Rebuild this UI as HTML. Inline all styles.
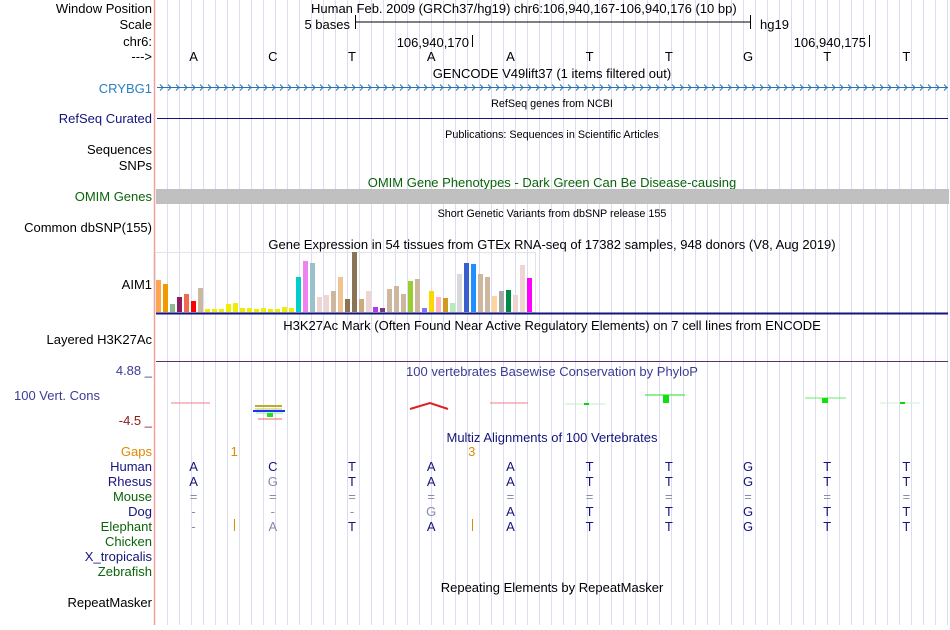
<!DOCTYPE html>
<html><head><meta charset="utf-8"><style>
html,body{margin:0;padding:0;background:#fff}
body{width:950px;height:625px;overflow:hidden;position:relative;font-family:"Liberation Sans",sans-serif}
svg text{font-family:"Liberation Sans",sans-serif}
</style></head><body>
<svg id="chart" width="950" height="625" viewBox="0 0 950 625" xmlns="http://www.w3.org/2000/svg">
<g id="grid"></g>
<line x1="154.5" y1="0" x2="154.5" y2="625" stroke="#f4a0a0" stroke-width="1.5"/>
<g id="labels" font-size="13" text-anchor="end">
<text x="152" y="13" fill="#000">Window Position</text>
<text x="152" y="29" fill="#000">Scale</text>
<text x="152" y="46" fill="#000">chr6:</text>
<text x="152" y="61" fill="#000">---&gt;</text>
<text x="152" y="93" fill="#2a7fc0">CRYBG1</text>
<text x="152" y="123" fill="#14147c">RefSeq Curated</text>
<text x="152" y="154" fill="#000">Sequences</text>
<text x="152" y="170" fill="#000">SNPs</text>
<text x="152" y="201" fill="#0a640a">OMIM Genes</text>
<text x="152" y="232" fill="#000">Common dbSNP(155)</text>
<text x="152" y="289" fill="#000">AIM1</text>
<text x="152" y="344" fill="#000">Layered H3K27Ac</text>
<text x="152" y="375" fill="#3c3c96">4.88 _</text>
<text x="100" y="400" fill="#3c3c96">100 Vert. Cons</text>
<text x="152" y="425" fill="#8b1a1a">-4.5 _</text>
<text x="152" y="456" fill="#e08a00">Gaps</text>
<text x="152" y="471" fill="#14147c">Human</text>
<text x="152" y="486" fill="#14147c">Rhesus</text>
<text x="152" y="501" fill="#0a640a">Mouse</text>
<text x="152" y="516" fill="#14147c">Dog</text>
<text x="152" y="531" fill="#0a640a">Elephant</text>
<text x="152" y="546" fill="#0a640a">Chicken</text>
<text x="152" y="561" fill="#14147c">X_tropicalis</text>
<text x="152" y="576" fill="#0a640a">Zebrafish</text>
<text x="152" y="607" fill="#000">RepeatMasker</text>
</g>
<g font-size="13" fill="#000">
<text x="311" y="13">Human Feb. 2009 (GRCh37/hg19)   chr6:106,940,167-106,940,176 (10 bp)</text>
<text x="350" y="29" text-anchor="end">5 bases</text>
<line x1="355" y1="22" x2="751" y2="22" stroke="#000"/>
<line x1="355.5" y1="15" x2="355.5" y2="29" stroke="#000"/>
<line x1="750.5" y1="15" x2="750.5" y2="29" stroke="#000"/>
<text x="760" y="29">hg19</text>
<text x="469" y="47" text-anchor="end">106,940,170</text>
<line x1="472.5" y1="35" x2="472.5" y2="47" stroke="#000"/>
<text x="866" y="47" text-anchor="end">106,940,175</text>
<line x1="869.5" y1="35" x2="869.5" y2="47" stroke="#000"/>
<text x="552" y="78" text-anchor="middle">GENCODE V49lift37 (1 items filtered out)</text>
<text x="552" y="107" text-anchor="middle" font-size="10.8">RefSeq genes from NCBI</text>
<text x="552" y="138" text-anchor="middle" font-size="10.8">Publications: Sequences in Scientific Articles</text>
<text x="552" y="187" text-anchor="middle" fill="#0a640a">OMIM Gene Phenotypes - Dark Green Can Be Disease-causing</text>
<rect x="156" y="189" width="793" height="15" fill="#c0c0c0"/>
<text x="552" y="217" text-anchor="middle" font-size="10.8">Short Genetic Variants from dbSNP release 155</text>
<text x="552" y="249" text-anchor="middle">Gene Expression in 54 tissues from GTEx RNA-seq of 17382 samples, 948 donors (V8, Aug 2019)</text>
<text x="552" y="330" text-anchor="middle">H3K27Ac Mark (Often Found Near Active Regulatory Elements) on 7 cell lines from ENCODE</text>
<text x="552" y="376" text-anchor="middle" fill="#3c3c96">100 vertebrates Basewise Conservation by PhyloP</text>
<text x="552" y="442" text-anchor="middle" fill="#14147c">Multiz Alignments of 100 Vertebrates</text>
<text x="552" y="592" text-anchor="middle">Repeating Elements by RepeatMasker</text>
</g>
<line x1="157" y1="87.5" x2="948" y2="87.5" stroke="#2a70b0"/>
<g id="chevrons" stroke="#2a70b0" fill="none"></g>
<line x1="157" y1="118.5" x2="948" y2="118.5" stroke="#14147c"/>
<rect x="155.5" y="252.5" width="380" height="60" fill="none" stroke="#e4e4e4"/>
<g id="gtex"></g>
<line x1="156" y1="313.5" x2="948" y2="313.5" stroke="#14147c" stroke-width="2"/>
<line x1="156" y1="361.5" x2="948" y2="361.5" stroke="#5a3070"/>
<g id="phylop">
<line x1="171" y1="403" x2="210" y2="403" stroke="#f08080"/>
<line x1="255" y1="406" x2="282" y2="406" stroke="#b8b020" stroke-width="2"/>
<line x1="255" y1="409" x2="282" y2="409" stroke="#c8c050" stroke-width="1"/>
<line x1="253" y1="411" x2="285" y2="411" stroke="#2030ff" stroke-width="2"/>
<line x1="256" y1="413" x2="283" y2="413" stroke="#90f090"/>
<rect x="267" y="413" width="6" height="4" fill="#20e020"/>
<line x1="258" y1="419" x2="282" y2="419" stroke="#f06060"/>
<path d="M410 409 L430 403 L448 409" stroke="#e02020" stroke-width="2" fill="none"/>
<line x1="490" y1="403" x2="528" y2="403" stroke="#f08080"/>
<line x1="565" y1="404" x2="605" y2="404" stroke="#c0f0c0"/>
<rect x="584" y="403" width="5" height="2" fill="#10d010"/>
<line x1="645" y1="395" x2="685" y2="395" stroke="#20e020"/>
<rect x="663" y="395" width="6" height="8" fill="#10e010"/>
<line x1="805" y1="398" x2="846" y2="398" stroke="#60f060"/>
<rect x="822" y="398" width="6" height="5" fill="#10e010"/>
<line x1="880" y1="403" x2="920" y2="403" stroke="#d0f0d0"/>
<rect x="900" y="402" width="5" height="2" fill="#10d010"/>
</g>
<g id="bases" font-size="13" text-anchor="middle"></g>
</svg>
<script>
const NS='http://www.w3.org/2000/svg';
const gtexValues=[32,28,8,15,18,11,24,3,3,3,8,9,4,4,3,4,3,3,5,4,35,51,49,15,17,21,35,13,60,13,21,5,4,23,26,18,31,33,4,21,15,14,9,38,49,48,38,35,16,21,22,17,47,34];
const gtexColors=['#ffa54f','#ee9a00','#8fbc8f','#8b1c62','#ee6a50','#ff0000','#cdb79e','#eeee00','#eeee00','#eeee00','#eeee00','#eeee00','#eeee00','#eeee00','#eeee00','#eeee00','#eeee00','#eeee00','#eeee00','#eeee00','#00cdcd','#ee82ee','#9ac0cd','#eed5d2','#eed5d2','#cdb79e','#eec591','#8b7355','#8b7355','#cdaa7d','#eed5d2','#b23aee','#7a378b','#cdb79e','#cdb79e','#cdb79e','#9acd32','#cdb79e','#7777ff','#ffd700','#ffb6c1','#cd9b1d','#b4eeb4','#d9d9d9','#3a5fcd','#1e90ff','#cdb79e','#cdb79e','#ffd39b','#a6a6a6','#008b45','#eed5d2','#eed5d2','#ff00ff'];
const humanSeq=['A','C','T','A','A','T','T','G','T','T'];
const rhesusSeq=['A','G','T','A','A','T','T','G','T','T'];
const mouseSeq=['=','=','=','=','=','=','=','=','=','='];
const dogSeq=['-','-','-','G','A','T','T','G','T','T'];
const elephantSeq=['-','A','T','A','A','T','T','G','T','T'];
const rhesusDiff=[false,true,false,false,false,false,false,false,false,false];
const dogDiff=[true,true,true,true,false,false,false,false,false,false];
const elephantDiff=[true,true,false,false,false,false,false,false,false,false];
const gapLabels=['1','3'];
const gapPos=[1,4];

const x0=154, baseW=79.2;
const bx=i=>x0+baseW*(i+0.5);
const gy=v=>312-v;
const grid=document.getElementById('grid');
for(let x=167;x<950;x+=12){
  const l=document.createElementNS(NS,'line');
  l.setAttribute('x1',x+0.5);l.setAttribute('x2',x+0.5);l.setAttribute('y1',0);l.setAttribute('y2',625);
  l.setAttribute('stroke','#dcdcf4');
  
  
  grid.appendChild(l);
}
const ch=document.getElementById('chevrons');
for(let x=160;x<946;x+=8){
  const p=document.createElementNS(NS,'path');
  p.setAttribute('d',`M${x} 84.5 L${x+3} 87.5 L${x} 90.5`);
  
  
  ch.appendChild(p);
}
const g=document.getElementById('gtex');
gtexValues.forEach((v,i)=>{
  const r=document.createElementNS(NS,'rect');
  r.setAttribute('x',156+i*7);r.setAttribute('y',gy(v));r.setAttribute('width',5);r.setAttribute('height',v);
  r.setAttribute('fill',gtexColors[i]);
  
  
  g.appendChild(r);
});
const b=document.getElementById('bases');
function txt(x,y,s,fill,name){
  const t=document.createElementNS(NS,'text');
  t.setAttribute('x',x);t.setAttribute('y',y);t.setAttribute('fill',fill);t.textContent=s;
  
  
  b.appendChild(t);
}
humanSeq.forEach((s,i)=>{
  txt(bx(i),61,s,'#000','ref-base');
  txt(bx(i),471,s,'#14147c','human-base');
  txt(bx(i),486,rhesusSeq[i],rhesusDiff[i]?'#8888b0':'#14147c','rhesus-base');
  txt(bx(i),501,mouseSeq[i],'#8888b0','mouse-base');
  txt(bx(i),516,dogSeq[i],dogDiff[i]?'#8888b0':'#14147c','dog-base');
  txt(bx(i),531,elephantSeq[i],elephantDiff[i]?'#8888b0':'#14147c','elephant-base');
});
gapLabels.forEach((s,i)=>{
  txt(x0+baseW*gapPos[i]+1,456,s,'#e08a00','gap-count');
  const l=document.createElementNS(NS,'line');
  const x=Math.round(x0+baseW*gapPos[i]+1)+0.5;
  l.setAttribute('x1',x);l.setAttribute('x2',x);l.setAttribute('y1',519);l.setAttribute('y2',531);
  l.setAttribute('stroke','#e08a00');
  
  
  b.appendChild(l);
});
</script>
</body></html>
